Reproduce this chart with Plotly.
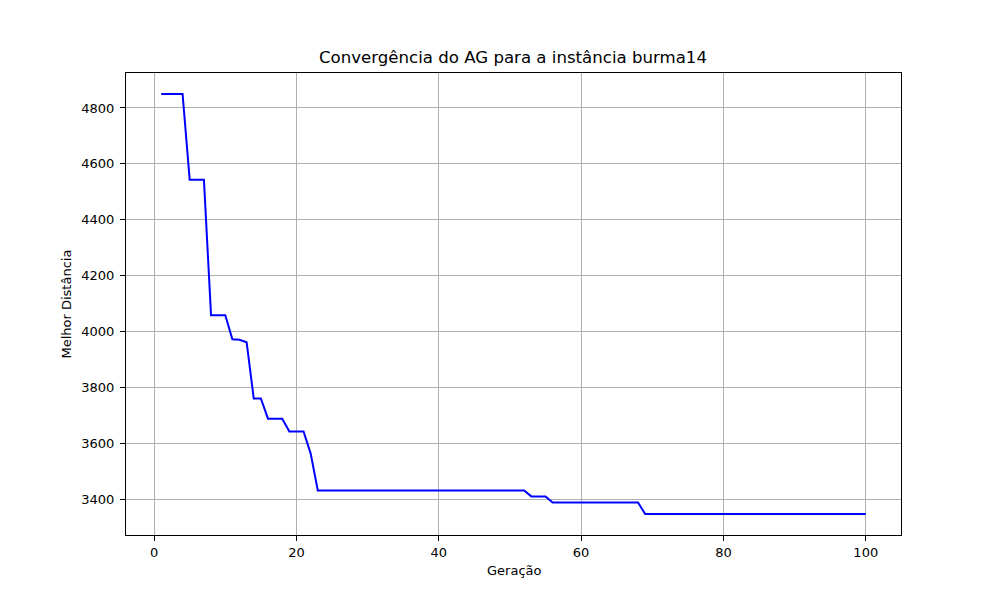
import plotly.graph_objects as go

# geração 1..100 e melhor distância encontrada
geracoes = list(range(1, 101))
melhor_distancia = [
    4850, 4850, 4850, 4850, 4543, 4543, 4543, 4059, 4059, 4059,
    3973, 3971, 3962, 3761, 3761, 3689, 3689, 3689, 3643, 3643,
    3643, 3564, 3432, 3432, 3432, 3432, 3432, 3432, 3432, 3432,
    3432, 3432, 3432, 3432, 3432, 3432, 3432, 3432, 3432, 3432,
    3432, 3432, 3432, 3432, 3432, 3432, 3432, 3432, 3432, 3432,
    3432, 3432, 3411, 3411, 3411, 3389, 3389, 3389, 3389, 3389,
    3389, 3389, 3389, 3389, 3389, 3389, 3389, 3389, 3348, 3348,
    3348, 3348, 3348, 3348, 3348, 3348, 3348, 3348, 3348, 3348,
    3348, 3348, 3348, 3348, 3348, 3348, 3348, 3348, 3348, 3348,
    3348, 3348, 3348, 3348, 3348, 3348, 3348, 3348, 3348, 3348,
]
x_ticks = [0, 20, 40, 60, 80, 100]
y_ticks = [3400, 3600, 3800, 4000, 4200, 4400, 4600, 4800]

FONT = 'DejaVu Sans'

fig = go.Figure()
fig.add_trace(
    go.Scatter(
        x=geracoes, y=melhor_distancia,
        mode='lines',
        line=dict(color='blue', width=2),
    )
)

# margens de 5% como no matplotlib
x_span = max(geracoes) - min(geracoes)
y_span = max(melhor_distancia) - min(melhor_distancia)

axis_style = dict(
    showline=True, mirror=True, linecolor='black', linewidth=1,
    showgrid=True, gridcolor='#b0b0b0', gridwidth=1,
    ticks='outside', ticklen=5, tickcolor='black', tickwidth=1,
    zeroline=False,
    tickfont=dict(family=FONT, size=13, color='black'),
)

# a página tem ~7px de margem, compensada aqui
fig.update_layout(
    width=1000, height=600,
    margin=dict(l=118, r=107, t=65, b=73),
    paper_bgcolor='white',
    plot_bgcolor='white',
    showlegend=False,
    font=dict(family=FONT, color='black'),
    title=dict(
        text='Convergência do AG para a instância burma14',
        x=(512 - 7) / 1000, xanchor='center',
        y=1 - 49 / 600, yanchor='middle',
        font=dict(family=FONT, size=16.6, color='black'),
    ),
    xaxis=dict(
        range=[min(geracoes) - 0.05 * x_span, max(geracoes) + 0.05 * x_span],
        tickvals=x_ticks,
        **axis_style,
    ),
    yaxis=dict(
        range=[min(melhor_distancia) - 0.05 * y_span, max(melhor_distancia) + 0.05 * y_span],
        tickvals=y_ticks,
        ticklabelstandoff=3,
        **axis_style,
    ),
    annotations=[
        dict(text='Geração', xref='paper', yref='paper', x=0.5, y=-0.056,
             xanchor='center', yanchor='top', showarrow=False,
             font=dict(family=FONT, size=13, color='black')),
        dict(text='Melhor Distância', xref='paper', yref='paper', x=-0.078, y=0.5,
             xanchor='center', yanchor='middle', textangle=-90, showarrow=False,
             font=dict(family=FONT, size=13, color='black')),
    ],
)

fig.write_html("out.html")
